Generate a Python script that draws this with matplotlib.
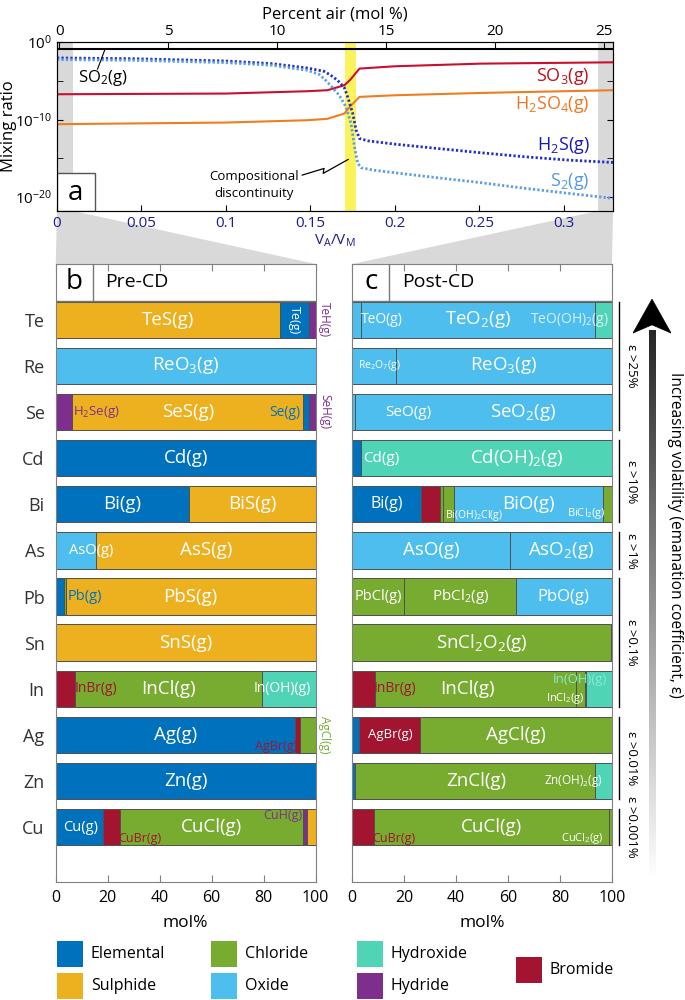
import re
import numpy as np
import matplotlib
matplotlib.use('Agg')
import matplotlib.pyplot as plt
from matplotlib.patches import Rectangle, Polygon
from matplotlib.ticker import NullFormatter

plt.rcParams['font.family'] = ['Open Sans', 'DejaVu Sans']
plt.rcParams['mathtext.fontset'] = 'custom'
plt.rcParams['mathtext.rm'] = 'Open Sans'
plt.rcParams['mathtext.it'] = 'Open Sans:italic'
plt.rcParams['mathtext.bf'] = 'Open Sans:bold'
plt.rcParams['mathtext.default'] = 'rm'

# ---- panel a : log10 mixing ratio vs V_A/V_M ----
so2_x = [0, 0.329]
so2_y = [-0.94, -0.94]
so3_x = [0, 0.1, 0.148, 0.16, 0.17, 0.1736, 0.179, 0.2, 0.251, 0.329]
so3_y = [-6.74, -6.65, -6.35, -6.22, -5.58, -4.85, -3.43, -3.13, -2.79, -2.62]
h2so4_x = [0, 0.1, 0.148, 0.16, 0.17, 0.1736, 0.179, 0.2, 0.251, 0.329]
h2so4_y = [-10.6, -10.39, -10.09, -9.91, -9.23, -8.28, -7.08, -6.87, -6.57, -6.22]
h2s_x = [0, 0.044, 0.1, 0.127, 0.148, 0.158, 0.162, 0.166, 0.170, 0.172, 0.175,
         0.177, 0.179, 0.184, 0.2, 0.225, 0.251, 0.277, 0.303, 0.329]
h2s_y = [-2.06, -2.15, -2.45, -2.79, -3.35, -3.78, -4.29, -4.94, -5.88, -7.08, -9.23,
         -11.37, -12.45, -12.75, -13.18, -13.73, -14.29, -14.81, -15.24, -15.54]
s2_x = [0, 0.044, 0.1, 0.127, 0.148, 0.155, 0.159, 0.163, 0.167, 0.171, 0.174,
        0.176, 0.178, 0.180, 0.187, 0.2, 0.225, 0.251, 0.277, 0.303, 0.329]
s2_y = [-2.27, -2.36, -2.66, -3.00, -3.65, -4.16, -4.94, -5.88, -6.87, -8.37, -10.52,
        -13.52, -15.67, -16.22, -16.52, -16.87, -17.51, -18.15, -18.88, -19.53, -20.17]
va_ticks = [0, 0.05, 0.1, 0.15, 0.2, 0.25, 0.3]
va_ticklabels = ['0', '0.05', '0.1', '0.15', '0.2', '0.25', '0.3']
air_ticks = [0, 5, 10, 15, 20, 25]

# ---- panels b, c : speciation (mol%) ----
elements = ['Te', 'Re', 'Se', 'Cd', 'Bi', 'As', 'Pb', 'Sn', 'In', 'Ag', 'Zn', 'Cu']

pre_species = [
    ['TeS(g)', 'Te(g)', 'TeH(g)'],
    ['ReO3(g)'],
    ['H2Se(g)', 'SeS(g)', 'Se(g)', 'SeH(g)'],
    ['Cd(g)'],
    ['Bi(g)', 'BiS(g)'],
    ['AsO(g)', 'AsS(g)'],
    ['Pb(g)', '', 'PbS(g)'],
    ['SnS(g)'],
    ['InBr(g)', 'InCl(g)', 'In(OH)(g)'],
    ['Ag(g)', 'AgBr(g)', 'AgCl(g)'],
    ['Zn(g)'],
    ['Cu(g)', 'CuBr(g)', 'CuCl(g)', 'CuH(g)', ''],
]
pre_percent = [
    [86.4, 11.2, 2.4],
    [100],
    [6.2, 89.1, 2.3, 2.4],
    [100],
    [51.2, 48.8],
    [15.6, 84.4],
    [3.3, 0.5, 96.2],
    [100],
    [7.6, 71.6, 20.8],
    [92.2, 1.6, 6.2],
    [100],
    [18.3, 6.3, 70.5, 1.7, 3.2],
]
pre_group = [
    ['Sulphide', 'Elemental', 'Hydride'],
    ['Oxide'],
    ['Hydride', 'Sulphide', 'Elemental', 'Hydride'],
    ['Elemental'],
    ['Elemental', 'Sulphide'],
    ['Oxide', 'Sulphide'],
    ['Elemental', 'Chloride', 'Sulphide'],
    ['Sulphide'],
    ['Bromide', 'Chloride', 'Hydroxide'],
    ['Elemental', 'Bromide', 'Chloride'],
    ['Elemental'],
    ['Elemental', 'Bromide', 'Chloride', 'Hydride', 'Sulphide'],
]

post_species = [
    ['TeO(g)', 'TeO2(g)', 'TeO(OH)2(g)'],
    ['Re2O7(g)', 'ReO3(g)'],
    ['SeO(g)', 'SeO2(g)'],
    ['Cd(g)', 'Cd(OH)2(g)'],
    ['Bi(g)', '', '', 'Bi(OH)2Cl(g)', 'BiO(g)', 'BiCl2(g)'],
    ['AsO(g)', 'AsO2(g)'],
    ['PbCl(g)', 'PbCl2(g)', 'PbO(g)'],
    ['SnCl2O2(g)', ''],
    ['InBr(g)', 'InCl(g)', 'InCl2(g)', '', 'In(OH)(g)'],
    ['', 'AgBr(g)', 'AgCl(g)'],
    ['', 'ZnCl(g)', 'Zn(OH)2(g)'],
    ['CuBr(g)', 'CuCl(g)', 'CuCl2(g)'],
]
post_percent = [
    [3.5, 89.8, 6.7],
    [16.9, 83.1],
    [1.2, 98.8],
    [3.2, 96.8],
    [26.4, 7.4, 1.3, 3.9, 57.7, 3.3],
    [60.8, 39.2],
    [20.0, 43.1, 36.9],
    [99.5, 0.5],
    [8.6, 77.4, 3.5, 0.6, 9.9],
    [2.6, 23.4, 74.0],
    [1.2, 92.1, 6.7],
    [8.2, 90.6, 1.2],
]
post_group = [
    ['Oxide', 'Oxide', 'Hydroxide'],
    ['Oxide', 'Oxide'],
    ['Oxide', 'Oxide'],
    ['Elemental', 'Hydroxide'],
    ['Elemental', 'Bromide', 'Chloride', 'Chloride', 'Oxide', 'Chloride'],
    ['Oxide', 'Oxide'],
    ['Chloride', 'Chloride', 'Oxide'],
    ['Chloride', 'Chloride'],
    ['Bromide', 'Chloride', 'Chloride', 'Chloride', 'Hydroxide'],
    ['Elemental', 'Bromide', 'Chloride'],
    ['Elemental', 'Chloride', 'Hydroxide'],
    ['Bromide', 'Chloride', 'Chloride'],
]

volatility_labels = ['ε >25%', 'ε >10%', 'ε >1%', 'ε >0.1%', 'ε >0.01%', 'ε >0.001%']
volatility_rows = [(0, 2), (3, 4), (5, 5), (6, 8), (9, 10), (11, 11)]

legend_names = ['Elemental', 'Sulphide', 'Chloride', 'Oxide', 'Hydroxide', 'Hydride', 'Bromide']

# ---- styles ----
colors = {'Elemental': '#0072bd', 'Sulphide': '#edb120', 'Chloride': '#77ac30',
          'Oxide': '#4dbeee', 'Hydroxide': '#4fd4b5', 'Hydride': '#7e2f8e',
          'Bromide': '#a2142f'}
c_el, c_hy, c_br, c_cl = colors['Elemental'], colors['Hydride'], colors['Bromide'], colors['Chloride']

pre_labels = {
    'TeS(g)': {}, 'Te(g)': dict(size=9, rot=-90),
    'TeH(g)': dict(x=103.5, size=8.5, color=c_hy, rot=-90),
    'ReO3(g)': {},
    'H2Se(g)': dict(x=15.8, size=9.5, color=c_hy), 'SeS(g)': dict(x=50.8),
    'Se(g)': dict(x=88.2, size=10, color=c_el),
    'SeH(g)': dict(x=103.5, size=8.5, color=c_hy, rot=-90),
    'Cd(g)': {}, 'Bi(g)': {}, 'BiS(g)': {},
    'AsO(g)': dict(x=13.8, size=10.5), 'AsS(g)': dict(x=58),
    'Pb(g)': dict(x=11.3, size=10.5, color=c_el), 'PbS(g)': {},
    'SnS(g)': {},
    'InBr(g)': dict(x=15.5, size=10, color=c_br), 'InCl(g)': {},
    'In(OH)(g)': dict(x=87, size=10),
    'Ag(g)': {}, 'AgBr(g)': dict(x=84.6, dy=0.25, size=9, color=c_br),
    'AgCl(g)': dict(x=103.5, size=8.5, color=c_cl, rot=-90),
    'Zn(g)': {},
    'Cu(g)': dict(x=9.4, size=10.5), 'CuBr(g)': dict(x=32.4, dy=0.25, size=9, color=c_br),
    'CuCl(g)': {}, 'CuH(g)': dict(x=87.3, dy=-0.25, size=9, color=c_hy),
}
post_labels = {
    'TeO(g)': dict(x=11.3, size=10), 'TeO2(g)': dict(x=48.5),
    'TeO(OH)2(g)': dict(x=83.7, size=10, color='#d8f2fa'),
    'Re2O7(g)': dict(x=10.3, size=7.5), 'ReO3(g)': {},
    'SeO(g)': dict(x=21.5, size=11), 'SeO2(g)': dict(x=65.8),
    'Cd(g)': dict(x=11.3, size=11), 'Cd(OH)2(g)': dict(x=63.2),
    'Bi(g)': dict(x=13.2, size=11.5), 'Bi(OH)2Cl(g)': dict(x=47, dy=0.25, size=7.5),
    'BiO(g)': dict(x=68), 'BiCl2(g)': dict(x=90, dy=0.2, size=8),
    'AsO(g)': dict(x=30.5), 'AsO2(g)': dict(x=80.4),
    'PbCl(g)': dict(x=10, size=10.5), 'PbCl2(g)': dict(x=41.7, size=11),
    'PbO(g)': dict(x=81.4, size=12),
    'SnCl2O2(g)': dict(x=50),
    'InBr(g)': dict(x=16.4, size=10, color=c_br), 'InCl(g)': dict(x=44.4),
    'InCl2(g)': dict(x=82, dy=0.22, size=8),
    'In(OH)(g)': dict(x=87.8, dy=-0.2, size=9.5, color='#8ae8d3'),
    'AgBr(g)': dict(x=14.5, size=9.5), 'AgCl(g)': dict(x=63.2),
    'ZnCl(g)': dict(x=47.6), 'Zn(OH)2(g)': dict(x=85, size=8.5),
    'CuBr(g)': dict(x=16, dy=0.25, size=9, color=c_br), 'CuCl(g)': dict(x=53.6),
    'CuCl2(g)': dict(x=88.6, dy=0.25, size=8),
}


def chem(name):
    return re.sub(r'(\d+)', r'$_{\1}$', name)


W, H = 685, 1000


def box(l, t, r, b):
    return [l / W, 1 - b / H, (r - l) / W, (b - t) / H]


fig = plt.figure(figsize=(W / 100, H / 100), dpi=100)
navy = '#1d1d8f'

# ================= panel a =================
ax = fig.add_axes(box(57, 42, 613, 211))
ax.set_yscale('log')
ax.set_xlim(0, 0.329)
ax.set_ylim(10 ** -21.8, 1)
ax.axvspan(0, 0.0096, color='#d9d9d9', lw=0, zorder=0)
ax.axvspan(0.320, 0.329, color='#d9d9d9', lw=0, zorder=0)
ax.axvspan(0.1705, 0.1767, color='#fbf35c', lw=0, zorder=0)

ax.plot(so2_x, 10 ** np.array(so2_y), color='k', lw=1.5)
ax.plot(so3_x, 10 ** np.array(so3_y), color='#c8102e', lw=1.5)
ax.plot(h2so4_x, 10 ** np.array(h2so4_y), color='#f07d1f', lw=1.5)
ax.plot(h2s_x, 10 ** np.array(h2s_y), color='#1f2fc8', lw=2, ls=(0, (0.8, 0.8)))
ax.plot(s2_x, 10 ** np.array(s2_y), color='#5b9ee6', lw=2, ls=(0, (0.8, 0.8)))

ax.text(0.315, 10 ** -4.4, 'SO$_{3}$(g)', color='#c0101f', fontsize=13, ha='right', va='center')
ax.text(0.315, 10 ** -8.1, 'H$_{2}$SO$_{4}$(g)', color='#ee7722', fontsize=13, ha='right', va='center')
ax.text(0.315, 10 ** -13.4, 'H$_{2}$S(g)', color='#1a1ab4', fontsize=13, ha='right', va='center')
ax.text(0.315, 10 ** -18.0, 'S$_{2}$(g)', color='#5599dd', fontsize=13, ha='right', va='center')
ax.text(0.0124, 10 ** -4.65, 'SO$_{2}$(g)', color='k', fontsize=12, ha='left', va='center')
ax.plot([0.0284, 0.0240], [10 ** -0.94, 10 ** -3.5], color='k', lw=0.8)

ax.text(0.1166, 10 ** -18.45, 'Compositional\ndiscontinuity', ha='center', va='center',
        fontsize=9.5, linespacing=1.35)
zz_x = [0.1451, 0.1580, 0.1575, 0.1723]
zz_y = [-17.17, -16.31, -16.95, -15.15]
ax.plot(zz_x, 10 ** np.array(zz_y), color='k', lw=0.9)

ax.set_xticks(va_ticks, va_ticklabels)
ax.set_yticks([1e-20, 1e-10, 1])
ax.set_yticks([1e-15, 1e-5], minor=True)
ax.yaxis.set_minor_formatter(NullFormatter())
ax.tick_params(which='both', direction='in', right=True, length=4, labelsize=11)
ax.tick_params(axis='x', labelcolor=navy)
ax.set_xlabel('V$_{A}$/V$_{M}$', color=navy, fontsize=11, labelpad=1)
ax.set_ylabel('Mixing ratio', fontsize=12)
ax.yaxis.set_label_coords(-0.072, 0.5)
for s in ax.spines.values():
    s.set_color('#444444')

ax.add_patch(Rectangle((0, 0), 0.068, 0.225, transform=ax.transAxes, fc='white',
                       ec='#555555', lw=1, zorder=5))
ax.text(0.034, 0.105, 'a', transform=ax.transAxes, fontsize=20, ha='center', va='center', zorder=6)

ax2 = ax.twiny()
ax2.set_xlim(-0.1, 25.4)
ax2.set_xticks(air_ticks)
ax2.tick_params(direction='in', length=4, labelsize=11, pad=2)
ax2.set_xlabel('Percent air (mol %)', fontsize=12, labelpad=4)

# ================= panels b, c =================
ax_b = fig.add_axes(box(55.7, 264, 315.7, 882))
ax_c = fig.add_axes(box(352.3, 264, 612, 882))


def speciation(axp, species, percent, groups, labels, letter, title):
    for i in range(len(elements)):
        left = 0
        for name, w, g in zip(species[i], percent[i], groups[i]):
            axp.barh(i, w, left=left, height=0.79, color=colors[g],
                     edgecolor='#505050', lw=0.7, zorder=2)
            if name in labels:
                st = labels[name]
                axp.text(st.get('x', left + w / 2), i + st.get('dy', 0), chem(name),
                         ha='center', va='center', fontsize=st.get('size', 13.5),
                         color=st.get('color', 'white'), rotation=st.get('rot', 0),
                         clip_on=False, zorder=4)
            left += w
    axp.set_xlim(0, 100)
    axp.set_ylim(12.19, -1.21)
    axp.axhline(-0.41, color='#777777', lw=1, zorder=3)
    axp.plot([14.2, 14.2], [-1.21, -0.41], color='#777777', lw=1, zorder=3)
    axp.text(7.1, -0.83, letter, fontsize=20, ha='center', va='center')
    axp.text(19, -0.81, title, fontsize=14, ha='left', va='center')
    axp.set_xticks([0, 20, 40, 60, 80, 100])
    axp.tick_params(axis='x', direction='in', top=True, length=5, color='#808080',
                    labelsize=11.5, pad=6)
    axp.set_xlabel('mol%', fontsize=12.5, labelpad=6)
    for s in axp.spines.values():
        s.set_color('#808080')


speciation(ax_b, pre_species, pre_percent, pre_group, pre_labels, 'b', 'Pre-CD')
speciation(ax_c, post_species, post_percent, post_group, post_labels, 'c', 'Post-CD')
ax_b.set_yticks(range(len(elements)), elements)
ax_b.tick_params(axis='y', length=0, pad=8, labelsize=13, labelcolor='#333333')
ax_c.set_yticks([])

for lab, (r0, r1) in zip(volatility_labels, volatility_rows):
    ax_c.plot([102.7, 102.7], [r0 - 0.395, r1 + 0.395], color='k', lw=1, clip_on=False)
    ax_c.text(107.6, (r0 + r1) / 2, lab, rotation=-90, fontsize=9.5, ha='center',
              va='center', clip_on=False)

# ================= overlay: connectors, arrow, legend =================
ov = fig.add_axes([0, 0, 1, 1], zorder=-1)
ov.set_axis_off()
ov.set_xlim(0, W)
ov.set_ylim(H, 0)


def to_px(trans, pt):
    return ov.transData.inverted().transform(trans.transform(pt))


xt = ax.get_xaxis_transform()
for (x0, x1), axp in [((0, 0.0096), ax_b), ((0.320, 0.329), ax_c)]:
    pts = [to_px(xt, (x0, 0)), to_px(xt, (x1, 0)),
           to_px(axp.transAxes, (1, 1)), to_px(axp.transAxes, (0, 1))]
    ov.add_patch(Polygon(pts, closed=True, fc='#d9d9d9', ec='none'))

# arrow
ax_arr = fig.add_axes(box(633, 295, 671, 880))
ax_arr.set_axis_off()
grad = np.linspace(1.0, 0.15, 256)[:, None]
ax_arr.imshow(grad, extent=(0.42, 0.58, 0, 0.94), origin='lower', cmap='gray',
              vmin=0, vmax=1, aspect='auto')
ax_arr.add_patch(Polygon([(0.5, 0.993), (1.0, 0.935), (0.5, 0.949), (0.0, 0.935)],
                         closed=True, fc='k', ec='k', lw=0.5))
ax_arr.set_xlim(0, 1)
ax_arr.set_ylim(0, 1)
fig.text(675 / W, 1 - 535 / H, 'Increasing volatility (emanation coefficient, ε)',
         rotation=-90, fontsize=11.2, ha='center', va='center')

# legend
legend_x = [57, 57, 211, 211, 357, 357, 516]
legend_y = [941, 973, 941, 973, 941, 973, 957]
for name, lx, ly in zip(legend_names, legend_x, legend_y):
    ov.add_patch(Rectangle((lx, ly), 26, 26, fc=colors[name], ec='none'))
    ov.text(lx + 34, ly + 13, name, fontsize=11.5, va='center', ha='left')

fig.savefig('out.png', dpi=100)
